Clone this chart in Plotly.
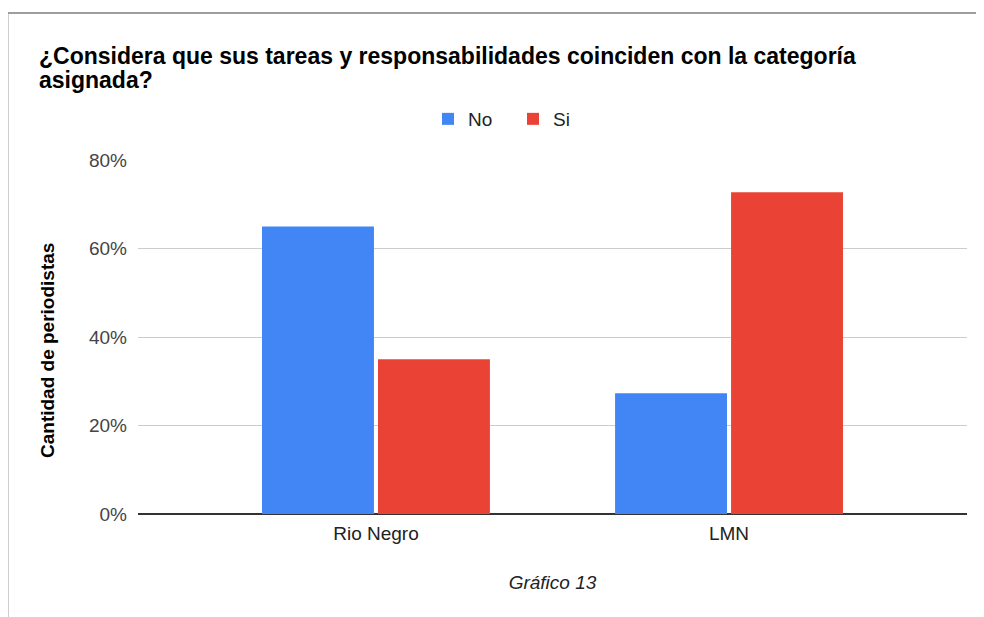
import plotly.graph_objects as go

categories = ["Rio Negro", "LMN"]
no_values = [65.0, 27.3]
si_values = [35.0, 72.7]
y_ticks = [0, 20, 40, 60, 80]
y_tick_text = ["0%", "20%", "40%", "60%", "80%"]
title_lines = ["¿Considera que sus tareas y responsabilidades coinciden con la categoría", "asignada?"]
y_title = "Cantidad de periodistas"
x_title = "Gráfico 13"

# page body has an 8px margin, so figure coords = screen coords - 8
OFF = 8
W, H = 984, 617
L, R, T, B = 138 - OFF, W - (967 - OFF), 160 - OFF, H - (514 - OFF)
pw, ph = W - L - R, H - T - B

def px_x(sx):
    return (sx - OFF - L) / pw

def px_y(sy):
    return (H - B - (sy - OFF)) / ph

FONT = "Liberation Sans, Arial, sans-serif"

fig = go.Figure()
fig.add_trace(go.Bar(name="No", x=categories, y=no_values, marker_color="#4285f4", marker_line_width=0))
fig.add_trace(go.Bar(name="Si", x=categories, y=si_values, marker_color="#ea4335", marker_line_width=0))

annotations = [
    dict(text="<b>%s</b>" % title_lines[0], x=px_x(37), y=px_y(56), xref="paper", yref="paper",
         xanchor="left", yanchor="middle", showarrow=False, font=dict(size=23, color="#000", family=FONT)),
    dict(text="<b>%s</b>" % title_lines[1], x=px_x(37), y=px_y(80), xref="paper", yref="paper",
         xanchor="left", yanchor="middle", showarrow=False, font=dict(size=23, color="#000", family=FONT)),
    dict(text="<b>%s</b>" % y_title, x=px_x(47), y=px_y(351), xref="paper", yref="paper",
         xanchor="center", yanchor="middle", textangle=-90, showarrow=False,
         font=dict(size=19, color="#000", family=FONT)),
]

fig.update_layout(
    width=W, height=H,
    margin=dict(l=L, r=R, t=T, b=B),
    paper_bgcolor="white", plot_bgcolor="white",
    font=dict(family=FONT, color="#222"),
    barmode="group", bargap=0.343, bargroupgap=0.035,
    annotations=annotations,
    legend=dict(
        orientation="h", x=px_x(428), xanchor="left", y=px_y(119), yanchor="middle",
        font=dict(size=19, color="#222"), bgcolor="rgba(0,0,0,0)",
        entrywidth=40, entrywidthmode="pixels",
        itemclick=False,
    ),
    xaxis=dict(
        range=[-0.674, 1.674], showgrid=False, showline=False, ticks="",
        tickfont=dict(size=19, color="#222"), ticklabelstandoff=6,
        title=dict(text="<i>%s</i>" % x_title, font=dict(size=19, color="#222"), standoff=32),
    ),
    yaxis=dict(
        range=[0, 80], tickvals=y_ticks, ticktext=y_tick_text,
        tickfont=dict(size=19, color="#444"),
        gridcolor="#cccccc", gridwidth=1,
        zeroline=True, zerolinecolor="#333333", zerolinewidth=1.5,
        ticks="", ticklabelstandoff=10,
    ),
    shapes=[
        dict(type="line", xref="paper", yref="paper", x0=px_x(7.5), x1=px_x(1000), y0=px_y(13), y1=px_y(13),
             line=dict(color="#9e9e9e", width=2)),
        dict(type="line", xref="paper", yref="paper", x0=px_x(7.5), x1=px_x(7.5), y0=px_y(12), y1=px_y(640),
             line=dict(color="#9e9e9e", width=2)),
    ],
)

fig.write_html("out.html")
